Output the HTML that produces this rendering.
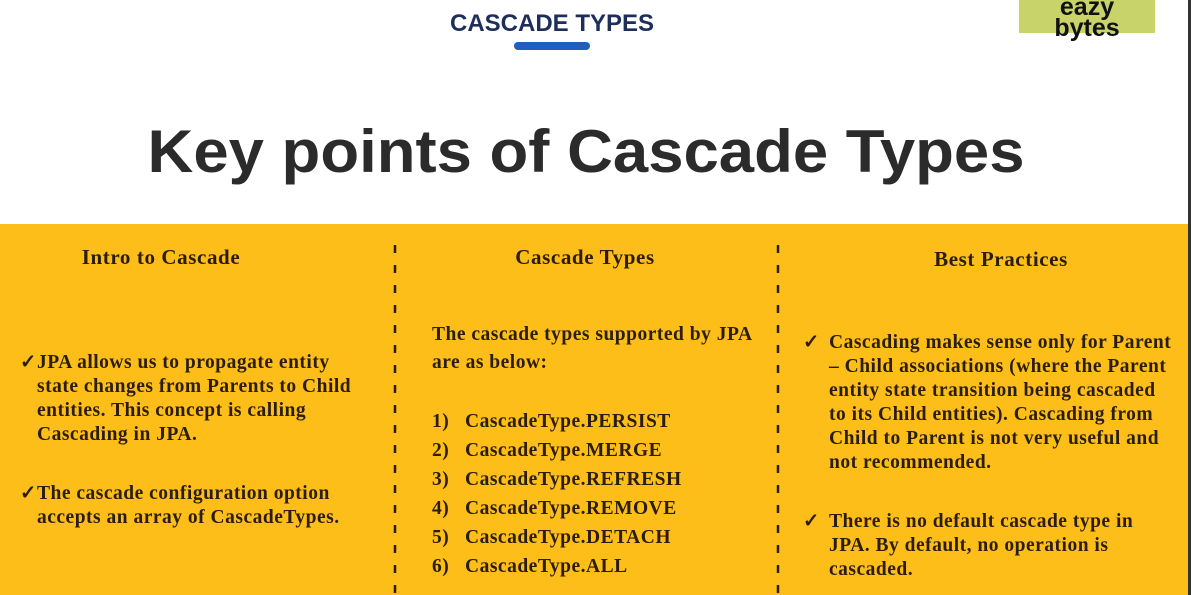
<!DOCTYPE html>
<html><head><meta charset="utf-8"><style>
html,body{margin:0;padding:0;width:1191px;height:595px;overflow:hidden;background:#fff}
svg{display:block}
.s{font-family:"Liberation Serif",serif;font-weight:bold;font-size:19.5px;letter-spacing:0.5px;fill:#2a1e08}
.h{font-family:"Liberation Serif",serif;font-weight:bold;font-size:21px;letter-spacing:0.6px;fill:#2a1e08}
</style></head><body>
<svg width="1191" height="595" viewBox="0 0 1191 595">
<rect x="0" y="0" width="1191" height="224" fill="#ffffff"/>
<text x="552" y="31" text-anchor="middle" font-family="Liberation Sans,sans-serif" font-weight="bold" font-size="24" fill="#1d2e5a" textLength="204" lengthAdjust="spacingAndGlyphs">CASCADE TYPES</text>
<rect x="514" y="42" width="76" height="8" rx="4" fill="#1f5fbf"/>
<g>
<rect x="1019" y="0" width="136" height="33" fill="#c8d46a"/>
<text x="1087" y="15" text-anchor="middle" font-family="Liberation Sans,sans-serif" font-weight="bold" font-size="25" fill="#111">eazy</text>
<text x="1087" y="36" text-anchor="middle" font-family="Liberation Sans,sans-serif" font-weight="bold" font-size="25" fill="#111">bytes</text>
</g>
<text x="586" y="172" text-anchor="middle" font-family="Liberation Sans,sans-serif" font-weight="bold" font-size="60" fill="#2b2b2b" textLength="877" lengthAdjust="spacingAndGlyphs">Key points of Cascade Types</text>
<rect x="0" y="224" width="1191" height="371" fill="#fdbe1a"/>
<rect x="1188" y="0" width="3" height="595" fill="#333"/>
<line x1="395" y1="245" x2="395" y2="595" stroke="#2a1e08" stroke-width="2.5" stroke-dasharray="8 12"/>
<line x1="778" y1="245" x2="778" y2="595" stroke="#2a1e08" stroke-width="2.5" stroke-dasharray="8 12"/>

<g>
<text class="h" x="161" y="264" text-anchor="middle">Intro to Cascade</text>
<text class="s" x="20" y="368">✓</text>
<text class="s" x="37" y="368">JPA allows us to propagate entity</text>
<text class="s" x="37" y="392">state changes from Parents to Child</text>
<text class="s" x="37" y="416">entities. This concept is calling</text>
<text class="s" x="37" y="440">Cascading in JPA.</text>
<text class="s" x="20" y="499">✓</text>
<text class="s" x="37" y="499">The cascade configuration option</text>
<text class="s" x="37" y="523">accepts an array of CascadeTypes.</text>
</g>

<g>
<text class="h" x="585" y="264" text-anchor="middle">Cascade Types</text>
<text class="s" x="432" y="340">The cascade types supported by JPA</text>
<text class="s" x="432" y="368">are as below:</text>
<text class="s" x="432" y="427">1)</text><text class="s" x="465" y="427">CascadeType.PERSIST</text>
<text class="s" x="432" y="456">2)</text><text class="s" x="465" y="456">CascadeType.MERGE</text>
<text class="s" x="432" y="485">3)</text><text class="s" x="465" y="485">CascadeType.REFRESH</text>
<text class="s" x="432" y="514">4)</text><text class="s" x="465" y="514">CascadeType.REMOVE</text>
<text class="s" x="432" y="543">5)</text><text class="s" x="465" y="543">CascadeType.DETACH</text>
<text class="s" x="432" y="572">6)</text><text class="s" x="465" y="572">CascadeType.ALL</text>
</g>

<g>
<text class="h" x="1001" y="266" text-anchor="middle">Best Practices</text>
<text class="s" x="803" y="348">✓</text>
<text class="s" x="829" y="348">Cascading makes sense only for Parent</text>
<text class="s" x="829" y="372">– Child associations (where the Parent</text>
<text class="s" x="829" y="396">entity state transition being cascaded</text>
<text class="s" x="829" y="420">to its Child entities). Cascading from</text>
<text class="s" x="829" y="444">Child to Parent is not very useful and</text>
<text class="s" x="829" y="468">not recommended.</text>
<text class="s" x="803" y="527">✓</text>
<text class="s" x="829" y="527">There is no default cascade type in</text>
<text class="s" x="829" y="551">JPA. By default, no operation is</text>
<text class="s" x="829" y="575">cascaded.</text>
</g>
</svg>
</body></html>
